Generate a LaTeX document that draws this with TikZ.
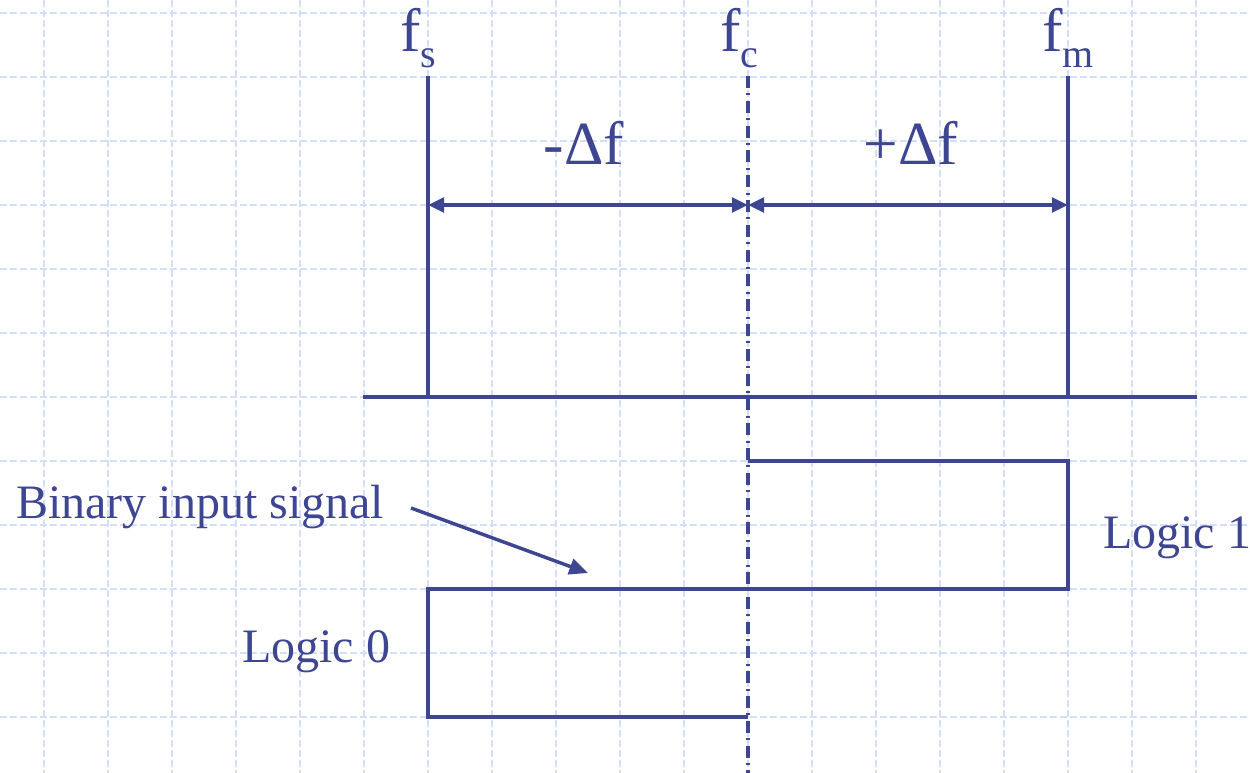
\documentclass[tikz,border=0pt]{standalone}
\usepackage{fontspec}
\setmainfont{Liberation Serif}
\usetikzlibrary{arrows.meta}
\definecolor{ink}{RGB}{62,70,146}
\definecolor{gridc}{RGB}{212,222,250}
\newcommand{\subtxt}[1]{\raisebox{-12pt}{\fontsize{30}{30}\selectfont #1}}
\begin{document}
\begin{tikzpicture}[x=0.75pt,y=-0.75pt,
  line/.style={ink, line width=2.6pt},
  dashdot/.style={ink, line width=2.4pt, dash pattern=on 9pt off 4pt on 1.6pt off 4pt},
  gridline/.style={gridc, line width=0.9pt, dash pattern=on 5pt off 2.5pt},
  big/.style={text=ink, font=\fontsize{46}{50}\selectfont, inner sep=0pt},
  lab/.style={text=ink, font=\fontsize{36}{40}\selectfont, inner sep=0pt},
  dim/.style={line, {Triangle[length=12pt,width=11pt]}-{Triangle[length=12pt,width=11pt]}},
  ptr/.style={line, -{Triangle[length=14pt,width=12pt]}}
]
\useasboundingbox (0,0) rectangle (1250,773);
\fill[white] (0,0) rectangle (1250,773);
% background grid
\foreach \x in {0,...,18} \draw[gridline] ({44+64*\x},0) -- ({44+64*\x},773);
\foreach \y in {0,...,11} \draw[gridline] (0,{13+64*\y}) -- (1250,{13+64*\y});

% coordinates
\coordinate (sTop) at (428,76);
\coordinate (sBot) at (428,397);
\coordinate (cTop) at (748,76);
\coordinate (cBot) at (748,773);
\coordinate (mTop) at (1068,76);
\coordinate (mBot) at (1068,397);
\coordinate (axL) at (363,397);
\coordinate (axR) at (1197,397);
\coordinate (dS) at (428,205);
\coordinate (dC) at (748,205);
\coordinate (dM) at (1068,205);
% signal corners
\coordinate (p1) at (748,717);
\coordinate (p2) at (428,717);
\coordinate (p3) at (428,589);
\coordinate (p4) at (1068,589);
\coordinate (p5) at (1068,461);
\coordinate (p6) at (748,461);
\coordinate (aStart) at (411,508);
\coordinate (aEnd) at (588,573);

% frequency lines
\draw[line] (sTop) -- (sBot);
\draw[line] (mTop) -- (mBot);
\draw[dashdot] (cTop) -- (cBot);
\draw[line] (axL) -- (axR);

% dimension arrows
\draw[dim] (dS) -- (dC);
\draw[dim] (dC) -- (dM);

% binary signal
\draw[line, line join=miter] (p1) -- (p2) -- (p3) -- (p4) -- (p5) -- (p6);

% labels
\node[big, anchor=base west] (fs) at (400,52) {f\subtxt{s}};
\node[big, anchor=base west] (fc) at (720,52) {f\subtxt{c}};
\node[big, anchor=base west] (fm) at (1042,52) {f\subtxt{m}};
\node[big, anchor=base] (mdf) at (584,165) {-Δf};
\node[big, anchor=base] (pdf) at (911,165) {+Δf};
\node[lab, anchor=base west] (bis) at (16,518) {Binary input signal};
\node[lab, anchor=base west] (l0) at (242,662) {Logic 0};
\node[lab, anchor=base west] (l1) at (1103,548) {Logic 1};

\draw[ptr] (aStart) -- (aEnd);
\end{tikzpicture}
\end{document}
